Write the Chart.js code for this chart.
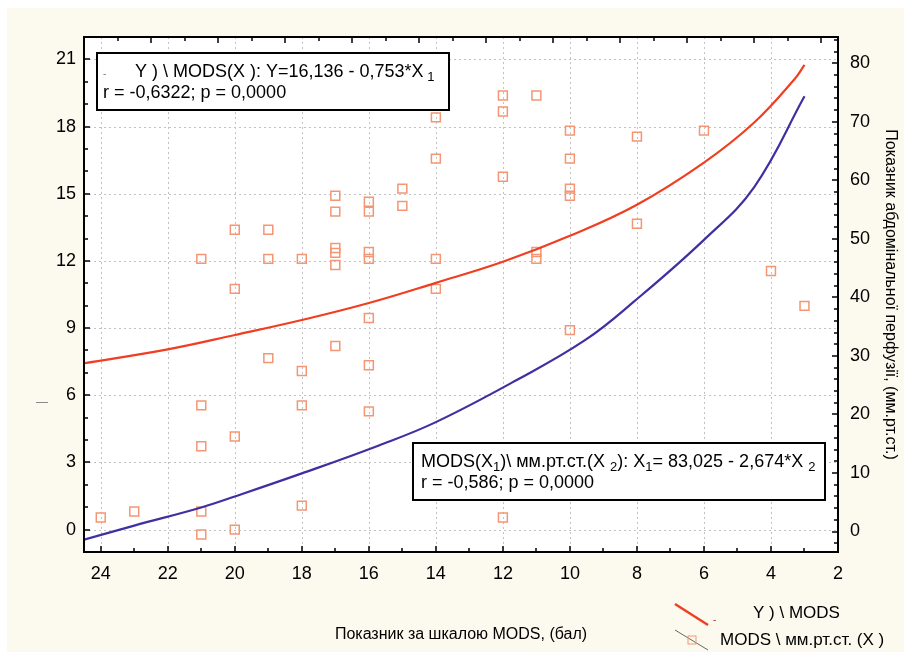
<!DOCTYPE html>
<html lang="uk">
<head>
    <meta charset="UTF-8">
    <title>MODS</title>
    <style>
        html, body { margin: 0; padding: 0; background: #fff; }
        canvas { display: block; }
    </style>
</head>
<body>
    <canvas id="myChart" width="904" height="652"></canvas>

    <script src="https://cdn.jsdelivr.net/npm/chart.js"></script>
    <script>
        // Шкала MODS (бал) — підписи осі X
        const xTicks = [24, 22, 20, 18, 16, 14, 12, 10, 8, 6, 4, 2];
        const yLeftTicks = [0, 3, 6, 9, 12, 15, 18, 21];
        const yRightTicks = [0, 10, 20, 30, 40, 50, 60, 70, 80];

        // точки (бал MODS / значення)
        const pointsX = [24, 23, 21, 21, 21, 21, 21, 20, 20, 20, 20, 19, 19, 19, 18, 18, 18, 18,
                         17, 17, 17, 17, 17, 17, 16, 16, 16, 16, 16, 16, 16, 15, 15,
                         14, 14, 14, 14, 12, 12, 12, 12, 11, 11, 11,
                         10, 10, 10, 10, 10, 8, 8, 6, 4, 3];
        const pointsY = [0.54, 0.81, 0.81, -0.22, 3.72, 5.55, 12.09, 0.0, 4.16, 10.75, 13.39, 7.66, 12.09, 13.39, 1.07, 5.55, 7.08, 12.09,
                         8.20, 11.82, 12.36, 12.58, 14.20, 14.91, 5.28, 7.34, 9.45, 12.09, 12.40, 14.20, 14.64, 14.46, 15.23,
                         10.75, 12.09, 16.57, 18.41, 0.54, 15.76, 18.67, 19.39, 12.09, 12.40, 19.39,
                         8.91, 14.91, 15.23, 16.57, 17.82, 13.66, 17.55, 17.82, 11.55, 9.99];

        // червона крива Y) \ MODS
        const redX = [24.5, 22, 20, 18, 16, 14, 12, 10, 8, 6, 4.5, 3.3, 3];
        const redY = [7.43, 8.05, 8.69, 9.36, 10.12, 11.02, 11.96, 13.12, 14.51, 16.39, 18.18, 20.11, 20.75];

        // синя крива MODS \ мм.рт.ст.
        const blueX = [24.5, 23, 21, 20, 18, 15.7, 14, 11.6, 9.55, 8.1, 6, 4.5, 3];
        const blueY = [-0.45, 0.18, 0.99, 1.48, 2.51, 3.76, 4.8, 6.67, 8.46, 10.17, 12.94, 15.3, 19.35];

        const FONT = "'Liberation Sans', Arial, sans-serif";
        const RED = 'rgb(240, 62, 32)';
        const BLUE = 'rgb(62, 48, 160)';
        const ORANGE = 'rgb(244, 150, 115)';

        function zip(xs, ys) {
            return xs.map((x, i) => ({ x: x, y: ys[i] }));
        }

        // малює текст із нижніми індексами
        function drawRich(ctx, x, y, parts, size) {
            ctx.textBaseline = 'middle';
            ctx.textAlign = 'left';
            parts.forEach(p => {
                if (p[1]) {
                    ctx.font = (size - 5) + 'px ' + FONT;
                    ctx.fillText(p[0], x, y + 5);
                } else {
                    ctx.font = size + 'px ' + FONT;
                    ctx.fillText(p[0], x, y);
                }
                x += ctx.measureText(p[0]).width;
            });
        }

        const decor = {
            id: 'decor',
            beforeDraw(chart) {
                const ctx = chart.ctx;
                const a = chart.chartArea;
                ctx.save();
                ctx.fillStyle = '#ffffff';
                ctx.fillRect(0, 0, chart.width, chart.height);
                ctx.fillStyle = '#fcf9ee';
                ctx.fillRect(7, 8, chart.width - 7, chart.height - 8);
                ctx.fillStyle = '#ffffff';
                ctx.fillRect(a.left, a.top, a.right - a.left, a.bottom - a.top);
                ctx.restore();
            },
            beforeDatasetsDraw(chart) {
                // пунктирна сітка
                const ctx = chart.ctx;
                const a = chart.chartArea;
                const sx = chart.scales.x;
                const sy = chart.scales.y;
                ctx.save();
                ctx.strokeStyle = '#c2c2c2';
                ctx.lineWidth = 1;
                ctx.setLineDash([2, 3]);
                ctx.beginPath();
                xTicks.forEach(v => {
                    const px = Math.round(sx.getPixelForValue(v)) + 0.5;
                    ctx.moveTo(px, a.top);
                    ctx.lineTo(px, a.bottom);
                });
                yLeftTicks.forEach(v => {
                    const py = Math.round(sy.getPixelForValue(v)) + 0.5;
                    ctx.moveTo(a.left, py);
                    ctx.lineTo(a.right, py);
                });
                ctx.stroke();
                ctx.restore();
            },
            afterDraw(chart) {
                const ctx = chart.ctx;
                const a = chart.chartArea;
                const sx = chart.scales.x;
                const sy = chart.scales.y;
                const sy2 = chart.scales.y2;
                ctx.save();

                // рамка
                ctx.strokeStyle = '#000';
                ctx.lineWidth = 2;
                ctx.strokeRect(a.left, a.top, a.right - a.left, a.bottom - a.top);

                // внутрішні поділки
                ctx.lineWidth = 1.5;
                ctx.beginPath();
                for (let v = 2; v <= 24; v++) {
                    const px = Math.round(sx.getPixelForValue(v));
                    const len = v % 2 === 0 ? 6 : 4;
                    ctx.moveTo(px, a.bottom);
                    ctx.lineTo(px, a.bottom - len);
                }
                for (let v = 2.5; v <= 24; v++) {
                    const px = Math.round(sx.getPixelForValue(v));
                    const len = Math.round(v - 0.5) % 2 === 0 ? 6 : 4;
                    ctx.moveTo(px, a.top);
                    ctx.lineTo(px, a.top + len);
                }
                for (let v = -1; v <= 22; v++) {
                    const py = Math.round(sy.getPixelForValue(v));
                    const len = v % 3 === 0 ? 6 : 4;
                    ctx.moveTo(a.left, py);
                    ctx.lineTo(a.left + len, py);
                }
                for (let v = -2; v <= 84; v += 2) {
                    const py = Math.round(sy2.getPixelForValue(v));
                    const len = v % 10 === 0 ? 6 : 4;
                    ctx.moveTo(a.right, py);
                    ctx.lineTo(a.right - len, py);
                }
                ctx.stroke();

                // верхня рамка з рівнянням
                ctx.fillStyle = '#fff';
                ctx.fillRect(97, 53, 352, 57);
                ctx.strokeStyle = '#000';
                ctx.lineWidth = 2;
                ctx.strokeRect(97, 53, 352, 57);
                ctx.fillStyle = '#777';
                ctx.font = '10px ' + FONT;
                ctx.textBaseline = 'middle';
                ctx.fillText('-', 103, 74);
                ctx.fillStyle = '#000';
                drawRich(ctx, 135, 72, [['Y ) \\ MODS(X ): Y=16,136 - 0,753*X', false], [' 1', true]], 18);
                drawRich(ctx, 103, 93, [['r = -0,6322; p = 0,0000', false]], 18);

                // нижня рамка з рівнянням
                ctx.fillStyle = '#fff';
                ctx.fillRect(413, 443, 412, 57);
                ctx.strokeRect(413, 443, 412, 57);
                ctx.fillStyle = '#000';
                drawRich(ctx, 421, 462, [
                    ['MODS(X', false], ['1', true], [')\\ мм.рт.ст.(X ', false],
                    ['2', true], ['): X', false], ['1', true], ['= 83,025 - 2,674*X ', false], ['2', true]
                ], 18);
                drawRich(ctx, 421, 483, [['r = -0,586; p = 0,0000', false]], 18);

                // легенда
                ctx.strokeStyle = RED;
                ctx.lineWidth = 2.5;
                ctx.beginPath();
                ctx.moveTo(675, 604);
                ctx.lineTo(708, 625);
                ctx.stroke();
                ctx.fillStyle = '#a33';
                ctx.font = '10px ' + FONT;
                ctx.fillText('-', 713, 620);
                ctx.strokeStyle = '#666';
                ctx.lineWidth = 1;
                ctx.beginPath();
                ctx.moveTo(675, 630);
                ctx.lineTo(708, 650);
                ctx.stroke();
                ctx.strokeStyle = ORANGE;
                ctx.strokeRect(688, 636, 8, 8);
                ctx.fillStyle = '#000';
                drawRich(ctx, 753, 613, [['Y ) \\ MODS', false]], 17);
                drawRich(ctx, 720, 640, [['MODS \\ мм.рт.ст. (X )', false]], 17);

                // дрібна риска зліва
                ctx.strokeStyle = '#888';
                ctx.lineWidth = 1;
                ctx.beginPath();
                ctx.moveTo(36, 402.5);
                ctx.lineTo(48, 402.5);
                ctx.stroke();

                ctx.restore();
            }
        };

        const tickFont = { family: FONT, size: 18 };

        const ctx = document.getElementById('myChart').getContext('2d');
        const myChart = new Chart(ctx, {
            type: 'scatter',
            data: {
                datasets: [
                    {
                        label: 'MODS \\ мм.рт.ст.',
                        data: zip(pointsX, pointsY),
                        pointStyle: 'rect',
                        pointRadius: 6.3,
                        pointBorderWidth: 1.5,
                        pointBorderColor: ORANGE,
                        pointBackgroundColor: 'rgba(255,255,255,0)',
                        yAxisID: 'y',
                        order: 3
                    },
                    {
                        type: 'line',
                        label: 'Y) \\ MODS',
                        data: zip(redX, redY),
                        borderColor: RED,
                        borderWidth: 2.2,
                        pointRadius: 0,
                        tension: 0.4,
                        fill: false,
                        yAxisID: 'y',
                        order: 1
                    },
                    {
                        type: 'line',
                        label: 'MODS \\ мм.рт.ст.',
                        data: zip(blueX, blueY),
                        borderColor: BLUE,
                        borderWidth: 2.2,
                        pointRadius: 0,
                        tension: 0.4,
                        fill: false,
                        yAxisID: 'y',
                        order: 2
                    }
                ]
            },
            options: {
                responsive: false,
                animation: false,
                devicePixelRatio: 1,
                layout: { padding: { top: 37, left: 0, right: 0, bottom: 0 } },
                plugins: {
                    legend: { display: false },
                    tooltip: { enabled: false }
                },
                scales: {
                    x: {
                        type: 'linear',
                        position: 'bottom',
                        min: 2,
                        max: 24.5,
                        reverse: true,
                        afterBuildTicks: s => { s.ticks = xTicks.map(v => ({ value: v })); },
                        afterFit: s => { s.height = 100; },
                        ticks: { font: tickFont, color: '#000', padding: 11, maxRotation: 0 },
                        grid: { display: false, drawTicks: false },
                        border: { display: false },
                        title: {
                            display: true,
                            text: 'Показник за шкалою MODS, (бал)',
                            color: '#000',
                            font: { family: FONT, size: 16 },
                            padding: { top: 0, bottom: 8 }
                        }
                    },
                    y: {
                        type: 'linear',
                        position: 'left',
                        min: -1,
                        max: 22,
                        afterBuildTicks: s => { s.ticks = yLeftTicks.map(v => ({ value: v })); },
                        afterFit: s => { s.width = 84; },
                        ticks: { font: tickFont, color: '#000', padding: 8 },
                        grid: { display: false, drawTicks: false },
                        border: { display: false }
                    },
                    y2: {
                        type: 'linear',
                        position: 'right',
                        min: -3.5,
                        max: 84.5,
                        afterBuildTicks: s => { s.ticks = yRightTicks.map(v => ({ value: v })); },
                        afterFit: s => { s.width = 66; },
                        ticks: { font: tickFont, color: '#000', padding: 12 },
                        grid: { display: false, drawTicks: false },
                        border: { display: false },
                        title: {
                            display: true,
                            text: 'Показник абдомінальної перфузії, (мм.рт.ст.)',
                            color: '#000',
                            font: { family: FONT, size: 16 },
                            padding: { top: 4, bottom: 0 }
                        }
                    }
                }
            },
            plugins: [decor]
        });
    </script>
</body>
</html>
